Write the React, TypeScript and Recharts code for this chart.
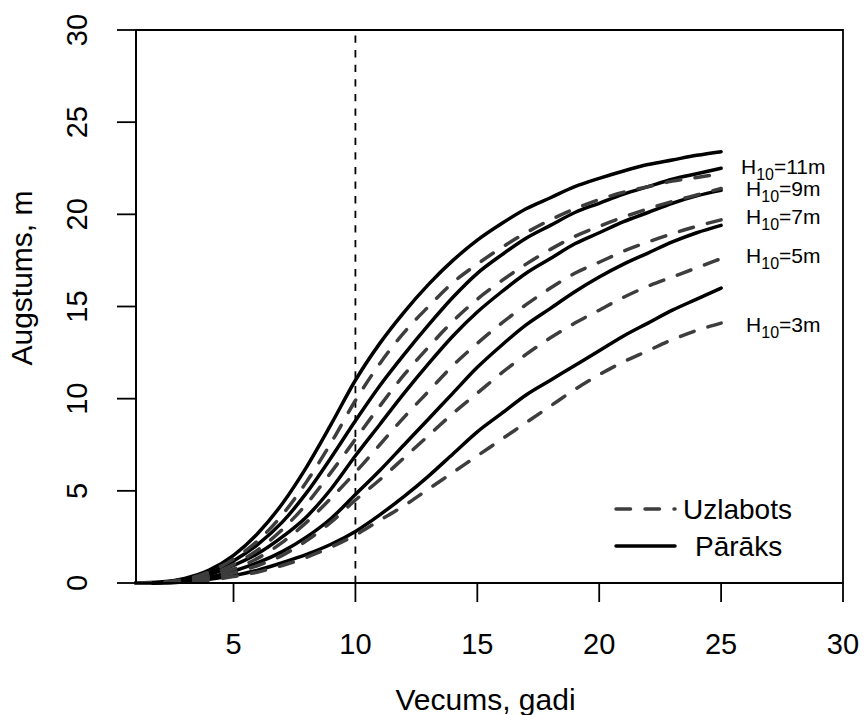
import React from "react";
import {
  LineChart,
  Line,
  XAxis,
  YAxis,
  ReferenceLine,
  ReferenceArea,
  ReferenceDot,
  Legend,
} from "recharts";

// fonts + strokes picked to look like the R base graphics export
const FONT = "'Liberation Sans', Arial, Helvetica, sans-serif";
const DASH_COLOR = "#3d3d3d";

const ages = [1, 2, 3, 4, 5, 6, 7, 8, 9, 10, 11, 12, 13, 14, 15, 16, 17, 18, 19, 20, 21, 22, 23, 24, 25];
const siteIndex = [11, 9, 7, 5, 3];

// Pārāks (solid), one row per site index
const paraksHeights = [
  [0, 0.05, 0.25, 0.7, 1.5, 2.7, 4.3, 6.3, 8.6, 11.0, 13.0, 14.7, 16.2, 17.5, 18.6, 19.5, 20.3, 20.9, 21.5, 21.95, 22.35, 22.7, 22.95, 23.2, 23.4],
  [0, 0.03, 0.2, 0.55, 1.2, 2.1, 3.3, 4.9, 6.8, 8.8, 10.7, 12.4, 14.0, 15.5, 16.8, 17.8, 18.7, 19.4, 20.1, 20.6, 21.1, 21.5, 21.9, 22.2, 22.5],
  [0, 0.02, 0.15, 0.45, 0.95, 1.6, 2.5, 3.6, 5.1, 6.9, 8.6, 10.3, 11.9, 13.4, 14.7, 15.8, 16.8, 17.6, 18.4, 19.0, 19.6, 20.1, 20.6, 21.0, 21.3],
  [0, 0.02, 0.1, 0.3, 0.65, 1.1, 1.7, 2.5, 3.5, 4.8, 6.1, 7.5, 8.9, 10.3, 11.7, 12.9, 14.0, 14.9, 15.8, 16.6, 17.3, 17.9, 18.5, 19.0, 19.4],
  [0, 0.01, 0.06, 0.2, 0.4, 0.7, 1.1, 1.55, 2.1, 2.8, 3.7, 4.7, 5.8, 7.0, 8.2, 9.2, 10.2, 11.0, 11.8, 12.6, 13.4, 14.1, 14.8, 15.4, 16.0],
];

// Uzlabots (dashed)
const uzlabotsHeights = [
  [0, 0.04, 0.2, 0.6, 1.3, 2.3, 3.7, 5.5, 7.6, 9.9, 11.9, 13.6, 15.0, 16.3, 17.3, 18.2, 19.0, 19.7, 20.3, 20.8, 21.2, 21.5, 21.8, 22.0, 22.2],
  [0, 0.03, 0.15, 0.45, 1.0, 1.8, 2.9, 4.3, 6.0, 7.8, 9.6, 11.3, 12.8, 14.2, 15.4, 16.4, 17.3, 18.1, 18.8, 19.35, 19.85, 20.3, 20.7, 21.05, 21.4],
  [0, 0.02, 0.12, 0.35, 0.75, 1.35, 2.2, 3.3, 4.6, 6.0, 7.5, 9.0, 10.4, 11.8, 13.0, 14.1, 15.1, 16.0, 16.8, 17.4, 18.0, 18.5, 18.95, 19.35, 19.7],
  [0, 0.02, 0.08, 0.25, 0.55, 0.95, 1.5, 2.3, 3.3, 4.5, 5.6, 6.8, 8.0, 9.2, 10.3, 11.4, 12.4, 13.3, 14.1, 14.8, 15.5, 16.1, 16.6, 17.1, 17.6],
  [0, 0.01, 0.05, 0.15, 0.35, 0.6, 0.95, 1.4, 1.95, 2.6, 3.4, 4.2, 5.1, 6.0, 6.9, 7.8, 8.7, 9.6, 10.5, 11.3, 12.0, 12.6, 13.2, 13.7, 14.1],
];

// where the H10 labels sit (height, m) - nudged apart like in the original
const labelHeights = [22.6, 21.4, 19.9, 17.75, 14.0];
const labelAge = 27.55;
const markerAge = 10;

const xTicks = [5, 10, 15, 20, 25, 30];
const yTicks = [0, 5, 10, 15, 20, 25, 30];
const legendOrder = ["Uzlabots", "Pārāks"];

const rows = ages.map((age, i) => {
  const r: Record<string, number> = { age };
  siteIndex.forEach((h, k) => {
    r[`p${h}`] = paraksHeights[k][i];
    r[`u${h}`] = uzlabotsHeights[k][i];
  });
  return r;
});

const XTick = ({ x, y, payload }: any) => (
  <text x={x} y={y + 50} textAnchor="middle" fontSize={29} fontFamily={FONT} fill="#000">
    {payload.value}
  </text>
);

const YTick = ({ x, y, payload }: any) => (
  <text
    x={x - 28}
    y={y}
    transform={`rotate(-90, ${x - 28}, ${y})`}
    textAnchor="middle"
    fontSize={29}
    fontFamily={FONT}
    fill="#000"
  >
    {payload.value}
  </text>
);

const siteLabel = (h: number) => (props: any) => {
  const vb = props.viewBox || {};
  const cx = vb.x + (vb.width || 0) / 2;
  const cy = vb.y + (vb.height || 0) / 2;
  return (
    <text x={cx} y={cy + 7.5} textAnchor="middle" fontSize={21} fontFamily={FONT} fill="#000">
      H
      <tspan fontSize={16} dy={6}>10</tspan>
      <tspan dy={-6}>{`=${h}m`}</tspan>
    </text>
  );
};

const LegendBox = ({ payload }: any) => {
  // one entry per name, in the order the original legend uses
  const names = legendOrder.filter((n) =>
    (payload || []).some((p: any) => p.value === n && p.type !== "none")
  );
  return (
    <svg width={260} height={90} style={{ display: "block" }}>
      {names.map((name, i) => {
        const dashed = name === "Uzlabots";
        const ly = i === 0 ? 29 : 66;
        return (
          <g key={name}>
            <line
              x1={16}
              y1={ly}
              x2={75}
              y2={ly}
              stroke={dashed ? DASH_COLOR : "#000"}
              strokeWidth={3.5}
              strokeLinecap="round"
              strokeDasharray={dashed ? "14.5 14.5" : undefined}
            />
            <text x={dashed ? 83 : 95} y={ly + 9.5} fontSize={28} fontFamily={FONT} fill="#000">
              {name}
            </text>
          </g>
        );
      })}
    </svg>
  );
};

export default function App() {
  return (
    <div style={{ position: "absolute", left: 0, top: 0, width: 865, height: 715, background: "#fff" }}>
      <LineChart
        width={865}
        height={715}
        data={rows}
        margin={{ top: 30, right: 22, bottom: 72, left: 76 }}
      >
        <XAxis
          dataKey="age"
          type="number"
          domain={[1, 30]}
          ticks={xTicks}
          height={60}
          tickSize={19}
          tick={<XTick />}
          axisLine={{ stroke: "#000", strokeWidth: 1.8 }}
          tickLine={{ stroke: "#000", strokeWidth: 1.8 }}
          label={(p: any) => {
            const vb = p.viewBox;
            return (
              <text x={vb.x + vb.width / 2 - 4} y={vb.y + 127} textAnchor="middle" fontSize={30} fontFamily={FONT} fill="#000">
                Vecums, gadi
              </text>
            );
          }}
        />
        <YAxis
          type="number"
          domain={[0, 30]}
          ticks={yTicks}
          width={60}
          tickSize={19}
          tick={<YTick />}
          axisLine={{ stroke: "#000", strokeWidth: 1.8 }}
          tickLine={{ stroke: "#000", strokeWidth: 1.8 }}
          label={(p: any) => {
            const vb = p.viewBox;
            const cx = 32;
            const cy = vb.y + 248;
            return (
              <text x={cx} y={cy} transform={`rotate(-90, ${cx}, ${cy})`} textAnchor="middle" fontSize={30} fontFamily={FONT} fill="#000">
                Augstums, m
              </text>
            );
          }}
        />
        <ReferenceArea x1={1} x2={30} y1={0} y2={30} fill="none" fillOpacity={0} stroke="#000" strokeWidth={1.8} />
        <ReferenceLine x={markerAge} stroke="#000" strokeWidth={1.8} strokeDasharray="7.3 7.3" />
        {siteIndex.map((h, k) => (
          <Line
            key={`p${h}`}
            dataKey={`p${h}`}
            name="Pārāks"
            type="monotone"
            stroke="#000"
            strokeWidth={3.5}
            strokeLinecap="round"
            dot={false}
            activeDot={false}
            legendType={k === 0 ? "line" : "none"}
            isAnimationActive={false}
          />
        ))}
        {siteIndex.map((h, k) => (
          <Line
            key={`u${h}`}
            dataKey={`u${h}`}
            name="Uzlabots"
            type="monotone"
            stroke={DASH_COLOR}
            strokeWidth={3.5}
            strokeLinecap="round"
            strokeDasharray="14.5 14.5"
            dot={false}
            activeDot={false}
            legendType={k === 0 ? "line" : "none"}
            isAnimationActive={false}
          />
        ))}
        {siteIndex.map((h, k) => (
          <ReferenceDot
            key={`lab${h}`}
            x={labelAge}
            y={labelHeights[k]}
            r={0}
            fill="none"
            stroke="none"
            label={siteLabel(h)}
          />
        ))}
        <Legend
          layout="vertical"
          align="center"
          verticalAlign="middle"
          content={<LegendBox />}
          wrapperStyle={{ position: "absolute", left: 600, top: 480, width: 260, height: 90 }}
        />
      </LineChart>
    </div>
  );
}
